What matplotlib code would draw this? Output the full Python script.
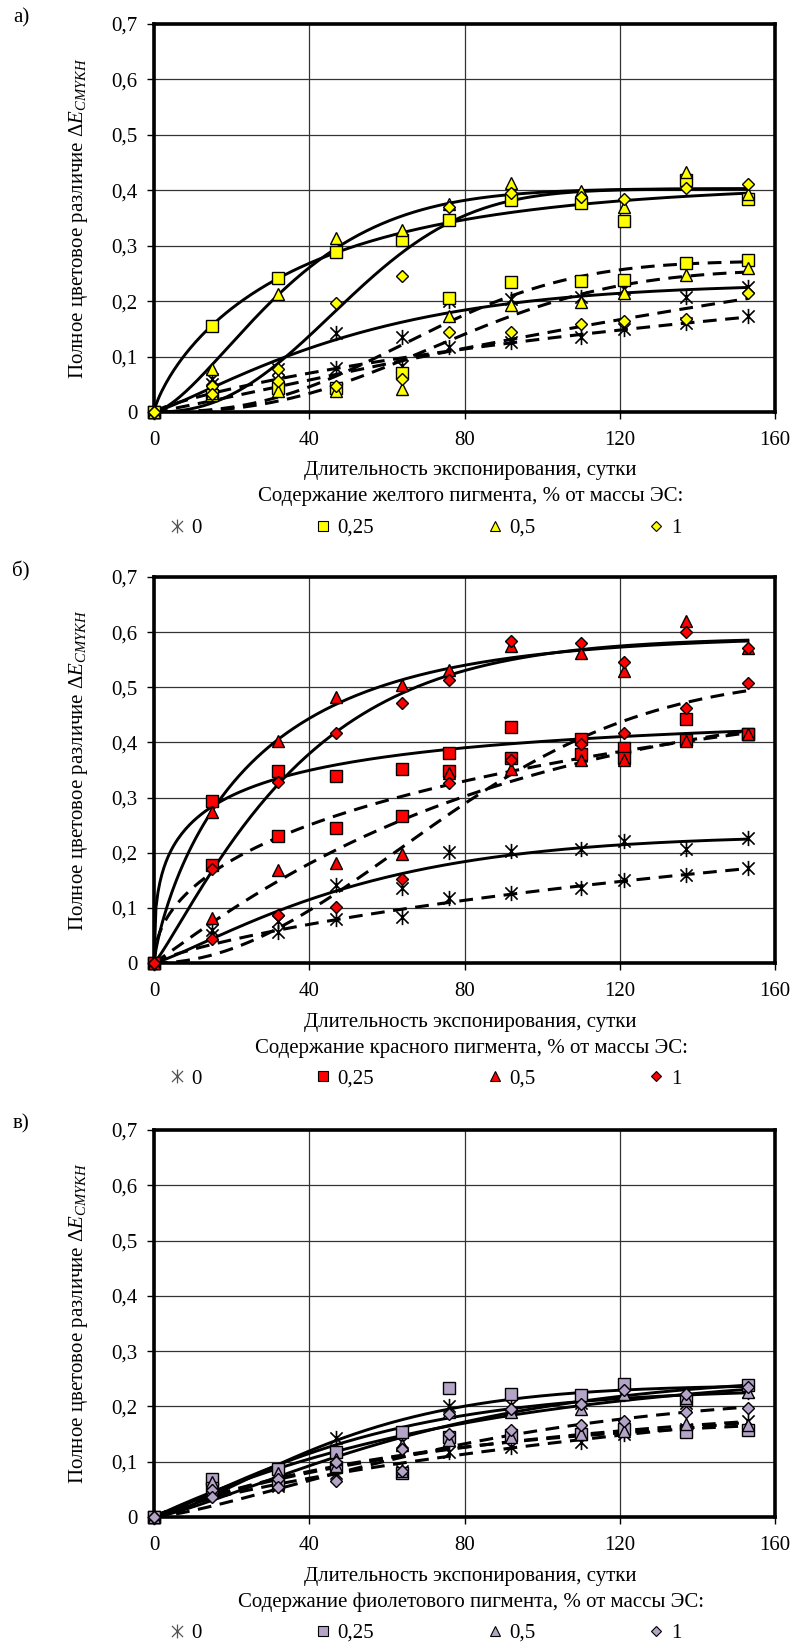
import numpy as np
import matplotlib
matplotlib.use('Agg')
import matplotlib.pyplot as plt
from matplotlib.path import Path
from matplotlib.lines import Line2D

plt.rcParams['font.family'] = 'Liberation Serif'
plt.rcParams['font.size'] = 15
plt.rcParams['mathtext.fontset'] = 'custom'
plt.rcParams['mathtext.rm'] = 'Liberation Serif'
plt.rcParams['mathtext.it'] = 'Liberation Serif:italic'

# exposure time, days
days = [0, 15, 32, 47, 64, 76, 92, 110, 121, 137, 153]

# control (0 % pigment), same in every panel: solid-trend set / dashed-trend set
ctrl_s = [0, 0.060, 0.077, 0.142, 0.136, 0.201, 0.203, 0.207, 0.222, 0.207, 0.226]
ctrl_d = [0, 0.050, 0.056, 0.079, 0.083, 0.118, 0.127, 0.136, 0.150, 0.160, 0.173]

# a) yellow pigment
yel_025_s = [0, 0.155, 0.242, 0.288, 0.311, 0.346, 0.383, 0.377, 0.345, 0.418, 0.385]
yel_025_d = [0, 0.030, 0.044, 0.044, 0.071, 0.206, 0.234, 0.237, 0.239, 0.269, 0.274]
yel_05_s = [0, 0.078, 0.212, 0.314, 0.329, 0.376, 0.414, 0.399, 0.370, 0.433, 0.394]
yel_05_d = [0, 0.035, 0.038, 0.038, 0.041, 0.173, 0.193, 0.199, 0.214, 0.247, 0.259]
yel_1_s = [0, 0.047, 0.077, 0.197, 0.246, 0.370, 0.396, 0.387, 0.385, 0.405, 0.412]
yel_1_d = [0, 0.032, 0.056, 0.047, 0.059, 0.144, 0.144, 0.158, 0.164, 0.167, 0.215]

# b) red pigment
red_025_s = [0, 0.294, 0.349, 0.340, 0.352, 0.381, 0.428, 0.406, 0.389, 0.442, 0.416]
red_025_d = [0, 0.177, 0.230, 0.245, 0.266, 0.348, 0.371, 0.379, 0.372, 0.404, 0.416]
red_05_s = [0, 0.273, 0.403, 0.482, 0.505, 0.532, 0.575, 0.563, 0.530, 0.621, 0.572]
red_05_d = [0, 0.082, 0.168, 0.182, 0.197, 0.345, 0.351, 0.369, 0.369, 0.403, 0.416]
red_1_s = [0, 0.170, 0.329, 0.418, 0.472, 0.513, 0.584, 0.580, 0.546, 0.601, 0.572]
red_1_d = [0, 0.044, 0.087, 0.102, 0.153, 0.327, 0.369, 0.397, 0.417, 0.463, 0.508]

# c) violet pigment
vio_025_s = [0, 0.069, 0.087, 0.117, 0.154, 0.234, 0.223, 0.220, 0.241, 0.212, 0.238]
vio_025_d = [0, 0.052, 0.062, 0.090, 0.080, 0.145, 0.148, 0.150, 0.160, 0.154, 0.157]
vio_05_s = [0, 0.063, 0.080, 0.105, 0.130, 0.190, 0.190, 0.196, 0.223, 0.215, 0.226]
vio_05_d = [0, 0.048, 0.060, 0.093, 0.084, 0.139, 0.145, 0.151, 0.155, 0.169, 0.166]
vio_1_s = [0, 0.048, 0.069, 0.099, 0.123, 0.187, 0.196, 0.205, 0.229, 0.223, 0.236]
vio_1_d = [0, 0.036, 0.054, 0.066, 0.084, 0.151, 0.157, 0.166, 0.173, 0.190, 0.198]

legend_labels = ['0', '0,25', '0,5', '1']
panel_letters = ['а)', 'б)', 'в)']
subtitles = ['Содержание желтого пигмента, % от массы ЭС:',
             'Содержание красного пигмента, % от массы ЭС:',
             'Содержание фиолетового пигмента, % от массы ЭС:']
colors = ['#FFFF00', '#FF0000', '#B4A5C8']

W, H = 796, 1650
fig = plt.figure(figsize=(W / 100, H / 100), dpi=100)

# Excel-like star marker (X with a vertical bar)
star = Path([(0, -1), (0, 1), (-0.8, -0.8), (0.8, 0.8), (-0.8, 0.8), (0.8, -0.8)],
            [Path.MOVETO, Path.LINETO, Path.MOVETO, Path.LINETO, Path.MOVETO, Path.LINETO])


def fit_curve(x, y):
    # saturation trend y = A*(1-exp(-(x/b)^c)), least squares on a grid
    x = np.asarray(x, float)
    y = np.asarray(y, float)
    cs = np.arange(0.4, 2.51, 0.05)[:, None, None]
    bs = np.arange(2, 301, 1.0)[None, :, None]
    f = 1 - np.exp(-(x[None, None, :] / bs) ** cs)
    A = (f * y).sum(-1) / (f * f).sum(-1)
    sse = ((y - A[..., None] * f) ** 2).sum(-1)
    i, j = np.unravel_index(np.argmin(sse), sse.shape)
    return A[i, j], bs[0, j, 0], cs[i, 0, 0]


def trend(ax, y, dashed):
    A, b, c = fit_curve(days, y)
    xs = np.linspace(0, days[-1], 300)
    ys = A * (1 - np.exp(-(xs / b) ** c))
    if dashed:
        ax.plot(xs, ys, color='black', lw=2.2, ls=(0, (4.5, 2.8)), zorder=2)
    else:
        ax.plot(xs, ys, color='black', lw=2.1, zorder=2)


panels = [
    [yel_025_s, yel_025_d, yel_05_s, yel_05_d, yel_1_s, yel_1_d],
    [red_025_s, red_025_d, red_05_s, red_05_d, red_1_s, red_1_d],
    [vio_025_s, vio_025_d, vio_05_s, vio_05_d, vio_1_s, vio_1_d],
]
tops = [24, 577, 1130]
bottoms = [412, 963, 1517]
left, right = 154, 775

for k in range(3):
    top, bot = tops[k], bottoms[k]
    col = colors[k]
    ax = fig.add_axes([left / W, 1 - bot / H, (right - left) / W, (bot - top) / H])
    data = panels[k]

    # trend lines
    trend(ax, ctrl_s, False)
    trend(ax, ctrl_d, True)
    for i in range(3):
        trend(ax, data[2 * i], False)
        trend(ax, data[2 * i + 1], True)

    # markers
    for s in (ctrl_s, ctrl_d):
        ax.plot(days, s, ls='none', marker=star, ms=11, mec='black', mew=1.2,
                zorder=4, clip_on=False)
    styles = [('s', 8.5), ('^', 9), ('D', 6.5)]
    for i, (m, ms) in enumerate(styles):
        for s in (data[2 * i], data[2 * i + 1]):
            ax.plot(days, s, ls='none', marker=m, ms=ms, mfc=col, mec='black',
                    mew=1, zorder=5 + i, clip_on=False)

    ax.set_xlim(0, 160)
    ax.set_ylim(0, 0.7)
    ax.set_xticks([0, 40, 80, 120, 160])
    ax.set_yticks(np.arange(0, 0.71, 0.1))
    ax.set_yticklabels(['0', '0,1', '0,2', '0,3', '0,4', '0,5', '0,6', '0,7'])
    ax.tick_params(axis='both', direction='out', length=5, width=1)
    ax.tick_params(axis='x', pad=9)
    ax.tick_params(axis='y', pad=7)
    ax.grid(True, color='#333333', lw=0.9)
    ax.set_axisbelow(True)
    for sp in ax.spines.values():
        sp.set_linewidth(2.6)
        sp.set_color('black')

    fig.text(79 / W, 1 - (top + bot) / 2 / H,
             'Полное цветовое различие Δ$\\mathit{E}_{\\mathit{CMYKH}}$',
             rotation=90, ha='center', va='center')
    fig.text(21 / W, 1 - (top - 6) / H, panel_letters[k], ha='center', va='center')
    fig.text(470 / W, 1 - (bot + 59) / H, 'Длительность экспонирования, сутки',
             ha='center', va='center')
    fig.text(471 / W, 1 - (bot + 85) / H, subtitles[k], ha='center', va='center')

    handles = [
        Line2D([], [], ls='none', marker=star, ms=10, mec='#555555', mew=0.9),
        Line2D([], [], ls='none', marker='s', ms=7, mfc=col, mec='black', mew=0.8),
        Line2D([], [], ls='none', marker='^', ms=7.5, mfc=col, mec='black', mew=0.8),
        Line2D([], [], ls='none', marker='D', ms=5.5, mfc=col, mec='black', mew=0.8),
    ]
    fig.legend(handles, legend_labels, loc='center',
               bbox_to_anchor=(424 / W, 1 - (bot + 116) / H), ncol=4, frameon=False,
               handlelength=1.0, handletextpad=0.2, columnspacing=5.3, borderpad=0,
               fontsize=15)

fig.savefig('out.png', dpi=100)
